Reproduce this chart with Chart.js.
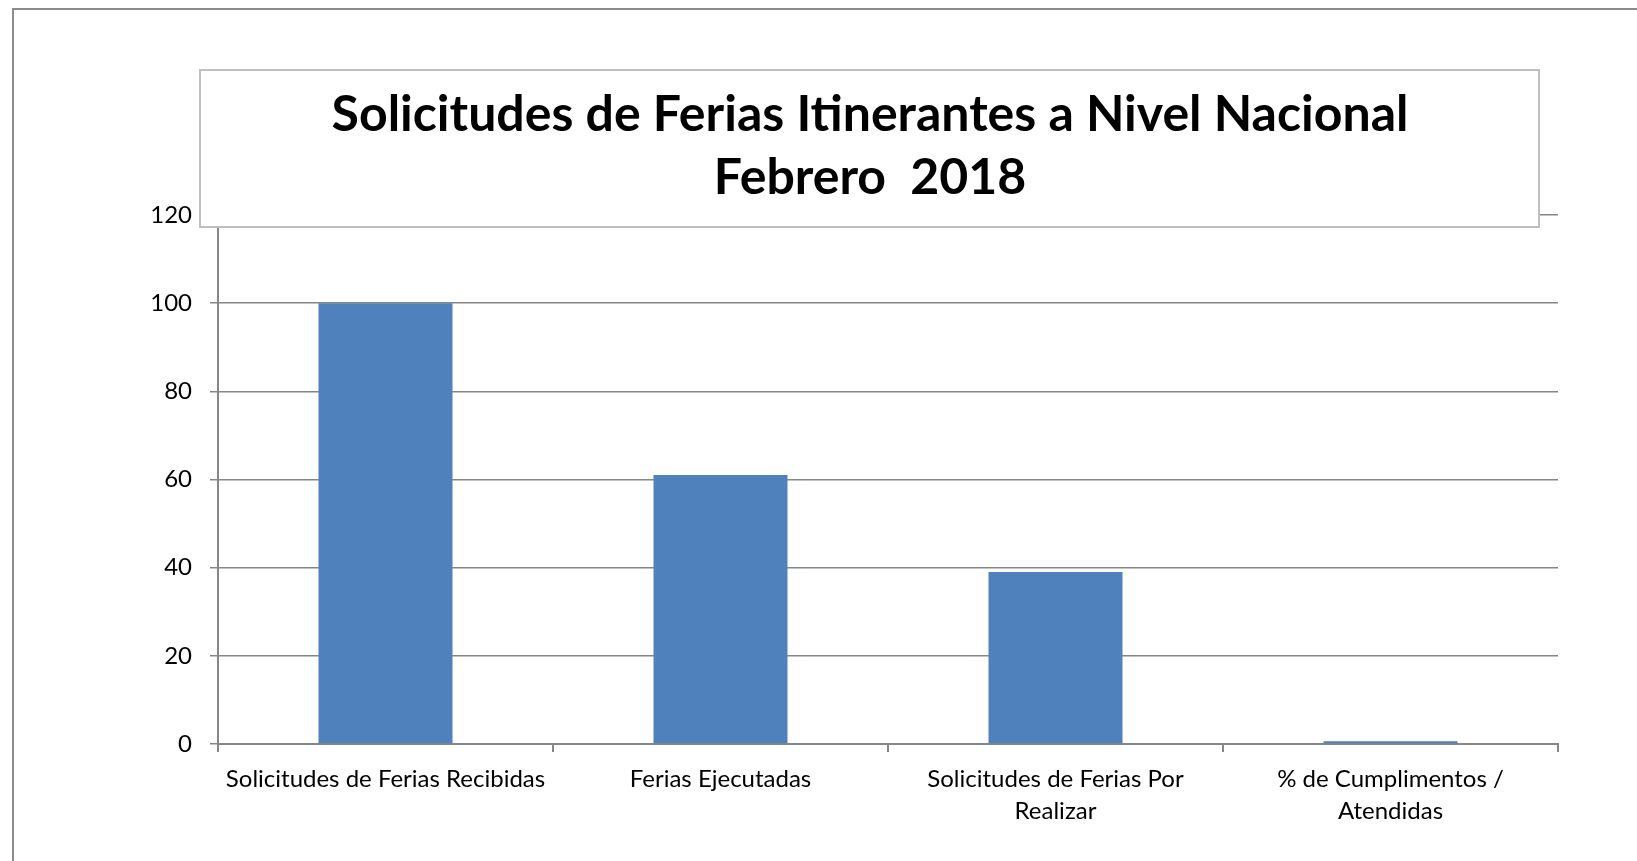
<!DOCTYPE html>
<html>
<head>
<meta charset="utf-8">
<script src="https://cdn.jsdelivr.net/npm/chart.js@4"></script>
<style>
  body { margin: 0; background: #ffffff; }
  #wrap { position: relative; width: 1637px; height: 861px; }
</style>
</head>
<body>
<div id="wrap">
  <canvas id="chart" width="1637" height="861"></canvas>
</div>
<script>
// data
const categories = [
  ["Solicitudes de Ferias Recibidas"],
  ["Ferias Ejecutadas"],
  ["Solicitudes de Ferias Por", "Realizar"],
  ["% de Cumplimentos /", "Atendidas"]
];
const values = [100, 61, 39, 0.61];
const titleLines = ["Solicitudes de Ferias Itinerantes a Nivel Nacional", "Febrero  2018"];
const yMin = 0;
const yMax = 120;
const yStep = 20;

const FONT = "Lato, 'Open Sans', sans-serif";
const GRID = '#868686';

// outer frame + boxed title drawn over the plot top
const framePlugin = {
  id: 'frame',
  beforeDraw(chart) {
    const ctx = chart.ctx;
    ctx.save();
    ctx.fillStyle = '#ffffff';
    ctx.fillRect(0, 0, chart.width, chart.height);
    ctx.strokeStyle = '#8c8c8c';
    ctx.lineWidth = 2;
    ctx.beginPath();
    ctx.moveTo(13, chart.height);
    ctx.lineTo(13, 9);
    ctx.lineTo(chart.width, 9);
    ctx.stroke();
    ctx.restore();
  },
  afterDraw(chart) {
    const ctx = chart.ctx;
    ctx.save();
    ctx.fillStyle = '#ffffff';
    ctx.fillRect(200, 70, 1339, 157);
    ctx.strokeStyle = '#bfbfbf';
    ctx.lineWidth = 2;
    ctx.strokeRect(200, 70, 1339, 157);
    ctx.fillStyle = '#000000';
    ctx.font = "bold 50px " + FONT;
    ctx.textAlign = 'center';
    ctx.textBaseline = 'middle';
    ctx.fillText(titleLines[0], 870, 115);
    ctx.fillText(titleLines[1], 870, 178);
    ctx.restore();
  }
};

const data = {
  labels: categories,
  datasets: [{
    data: values,
    backgroundColor: '#4F81BD',
    borderWidth: 0,
    barPercentage: 0.4,
    categoryPercentage: 1.0
  }]
};

const config = {
  type: 'bar',
  data: data,
  options: {
    responsive: false,
    animation: false,
    devicePixelRatio: 1,
    layout: {
      padding: { left: 0, right: 79, top: 215, bottom: 0 }
    },
    plugins: {
      legend: { display: false },
      title: { display: false },
      tooltip: { enabled: false }
    },
    scales: {
      x: {
        offset: true,
        grid: {
          offset: true,
          drawOnChartArea: false,
          drawTicks: true,
          tickLength: 8,
          color: GRID,
          lineWidth: 2
        },
        border: { display: true, color: GRID, width: 2 },
        ticks: {
          color: '#000000',
          padding: 12,
          maxRotation: 0,
          autoSkip: false,
          font: { family: FONT, size: 24, lineHeight: 1.3 }
        },
        afterFit(scale) { scale.height = 117; }
      },
      y: {
        min: yMin,
        max: yMax,
        grid: {
          color: GRID,
          lineWidth: 1.5,
          drawTicks: true,
          tickLength: 8
        },
        border: { display: true, color: GRID, width: 2 },
        ticks: {
          stepSize: yStep,
          color: '#000000',
          padding: 18,
          font: { family: FONT, size: 24 }
        },
        afterFit(scale) { scale.width = 218; }
      }
    }
  },
  plugins: [framePlugin]
};

var myChart = new Chart(document.getElementById('chart'), config);
</script>
</body>
</html>
